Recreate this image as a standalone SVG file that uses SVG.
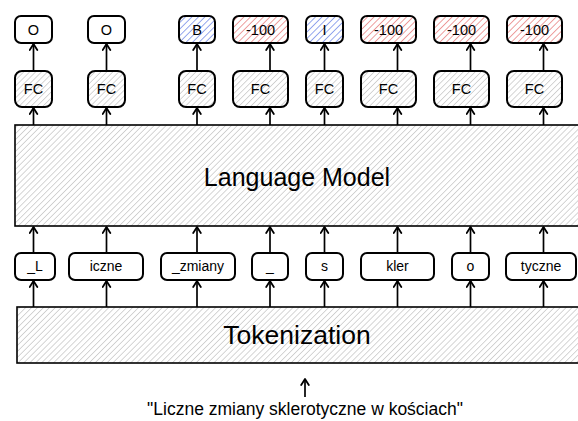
<svg xmlns="http://www.w3.org/2000/svg" width="578" height="421" viewBox="0 0 578 421">
<defs>
<pattern id="hGray" patternUnits="userSpaceOnUse" width="4.2" height="10" patternTransform="rotate(45)">
<line x1="0" y1="-1" x2="0" y2="11" stroke="#b4b4b4" stroke-width="1.1"/>
</pattern>
<pattern id="hBlue" patternUnits="userSpaceOnUse" width="4.6" height="10" patternTransform="rotate(45)">
<line x1="0" y1="-1" x2="0" y2="11" stroke="#3f5fe0" stroke-width="1.1"/>
</pattern>
<pattern id="hRed" patternUnits="userSpaceOnUse" width="4.6" height="10" patternTransform="rotate(45)">
<line x1="0" y1="-1" x2="0" y2="11" stroke="#e05050" stroke-width="1.1"/>
</pattern>
<marker id="ah" markerUnits="userSpaceOnUse" markerWidth="10" markerHeight="10" viewBox="0 0 10 10" refX="9" refY="5" orient="auto">
<path d="M3,1.2 L9,5 L3,8.8" fill="none" stroke="#000" stroke-width="1.8" stroke-linecap="round" stroke-linejoin="round"/>
</marker>
</defs>
<style>
.box{stroke:#000;stroke-width:2;}
.big{stroke:#000;stroke-width:1.6;}
.t{font-family:"Liberation Sans",Arial,sans-serif;fill:#000;text-anchor:middle;}
.s{font-size:14px;}
.m{font-size:14.5px;}
.l{font-size:25px;}
.c{stroke:#000;stroke-width:1.7;fill:none;marker-end:url(#ah);}
</style>
<rect width="578" height="421" fill="#fff"/>

<g id="outputs">
<g id="out1"><rect class="box" x="15" y="16" width="37" height="27" rx="6" fill="#fff"/><text class="t m" x="33.5" y="34.5">O</text></g>
<g id="out2"><rect class="box" x="88" y="16" width="37" height="27" rx="6" fill="#fff"/><text class="t m" x="106.5" y="34.5">O</text></g>
<g id="out3"><rect class="box" x="179" y="16" width="36" height="27" rx="6" fill="url(#hBlue)"/><text class="t m" x="197" y="34.5">B</text></g>
<g id="out4"><rect class="box" x="233" y="16" width="55" height="27" rx="6" fill="url(#hRed)"/><text class="t m" x="260.5" y="34.5">-100</text></g>
<g id="out5"><rect class="box" x="306" y="16" width="37" height="27" rx="6" fill="url(#hBlue)"/><text class="t m" x="324.5" y="34.5">I</text></g>
<g id="out6"><rect class="box" x="361" y="16" width="55" height="27" rx="6" fill="url(#hRed)"/><text class="t m" x="388.5" y="34.5">-100</text></g>
<g id="out7"><rect class="box" x="434" y="16" width="55" height="27" rx="6" fill="url(#hRed)"/><text class="t m" x="461.5" y="34.5">-100</text></g>
<g id="out8"><rect class="box" x="507" y="16" width="55" height="27" rx="6" fill="url(#hRed)"/><text class="t m" x="534.5" y="34.5">-100</text></g>
</g>

<g id="fcs">
<g id="fc1"><rect class="box" x="15" y="71" width="37" height="36" rx="7" fill="url(#hGray)"/><text class="t m" x="33.5" y="94">FC</text></g>
<g id="fc2"><rect class="box" x="88" y="71" width="37" height="36" rx="7" fill="url(#hGray)"/><text class="t m" x="106.5" y="94">FC</text></g>
<g id="fc3"><rect class="box" x="179" y="71" width="36" height="36" rx="7" fill="url(#hGray)"/><text class="t m" x="197" y="94">FC</text></g>
<g id="fc4"><rect class="box" x="233" y="71" width="55" height="36" rx="7" fill="url(#hGray)"/><text class="t m" x="260.5" y="94">FC</text></g>
<g id="fc5"><rect class="box" x="306" y="71" width="37" height="36" rx="7" fill="url(#hGray)"/><text class="t m" x="324.5" y="94">FC</text></g>
<g id="fc6"><rect class="box" x="361" y="71" width="55" height="36" rx="7" fill="url(#hGray)"/><text class="t m" x="388.5" y="94">FC</text></g>
<g id="fc7"><rect class="box" x="434" y="71" width="55" height="36" rx="7" fill="url(#hGray)"/><text class="t m" x="461.5" y="94">FC</text></g>
<g id="fc8"><rect class="box" x="507" y="71" width="55" height="36" rx="7" fill="url(#hGray)"/><text class="t m" x="534.5" y="94">FC</text></g>
</g>

<g id="language-model">
<rect class="big" x="15" y="125" width="570" height="101" fill="url(#hGray)"/>
<text class="t l" x="297" y="186">Language Model</text>
</g>

<g id="tokens">
<g id="tok1"><rect class="box" x="15" y="253" width="40" height="27" rx="6" fill="#fff"/><text class="t s" x="35" y="271">_L</text></g>
<g id="tok2"><rect class="box" x="69" y="253" width="74" height="27" rx="6" fill="#fff"/><text class="t s" x="106" y="271">iczne</text></g>
<g id="tok3"><rect class="box" x="161" y="253" width="74" height="27" rx="6" fill="#fff"/><text class="t s" x="198" y="271">_zmiany</text></g>
<g id="tok4"><rect class="box" x="252" y="253" width="36" height="27" rx="6" fill="#fff"/><text class="t s" x="270" y="271">_</text></g>
<g id="tok5"><rect class="box" x="306" y="253" width="37" height="27" rx="6" fill="#fff"/><text class="t s" x="324.5" y="271">s</text></g>
<g id="tok6"><rect class="box" x="361" y="253" width="73" height="27" rx="6" fill="#fff"/><text class="t s" x="397.5" y="271">kler</text></g>
<g id="tok7"><rect class="box" x="452" y="253" width="37" height="27" rx="6" fill="#fff"/><text class="t s" x="470.5" y="271">o</text></g>
<g id="tok8"><rect class="box" x="506" y="253" width="70" height="27" rx="6" fill="#fff"/><text class="t s" x="541" y="271">tyczne</text></g>
</g>

<g id="tokenization">
<rect class="big" x="17" y="307" width="568" height="56" fill="url(#hGray)"/>
<text class="t" style="font-size:26.5px" x="297" y="344">Tokenization</text>
</g>

<g id="input-text">
<text class="t" style="font-size:17.5px" x="305" y="415">"Liczne zmiany sklerotyczne w kościach"</text>
</g>

<g id="connectors">
<path class="c" d="M33.5,71 V44"/>
<path class="c" d="M106.5,71 V44"/>
<path class="c" d="M197,71 V44"/>
<path class="c" d="M270,71 V44"/>
<path class="c" d="M324.5,71 V44"/>
<path class="c" d="M397.5,71 V44"/>
<path class="c" d="M470.5,71 V44"/>
<path class="c" d="M543.5,71 V44"/>

<path class="c" d="M33.5,125 V108"/>
<path class="c" d="M106.5,125 V108"/>
<path class="c" d="M197,125 V108"/>
<path class="c" d="M270,125 V108"/>
<path class="c" d="M324.5,125 V108"/>
<path class="c" d="M397.5,125 V108"/>
<path class="c" d="M470.5,125 V108"/>
<path class="c" d="M543.5,125 V108"/>

<path class="c" d="M33.5,253 V227"/>
<path class="c" d="M106.5,253 V227"/>
<path class="c" d="M197,253 V227"/>
<path class="c" d="M270,253 V227"/>
<path class="c" d="M324.5,253 V227"/>
<path class="c" d="M397.5,253 V227"/>
<path class="c" d="M470.5,253 V227"/>
<path class="c" d="M543.5,253 V227"/>

<path class="c" d="M33.5,307 V281"/>
<path class="c" d="M106.5,307 V281"/>
<path class="c" d="M197,307 V281"/>
<path class="c" d="M270,307 V281"/>
<path class="c" d="M324.5,307 V281"/>
<path class="c" d="M397.5,307 V281"/>
<path class="c" d="M470.5,307 V281"/>
<path class="c" d="M543.5,307 V281"/>

<path class="c" d="M305,397 V379"/>
</g>
</svg>
